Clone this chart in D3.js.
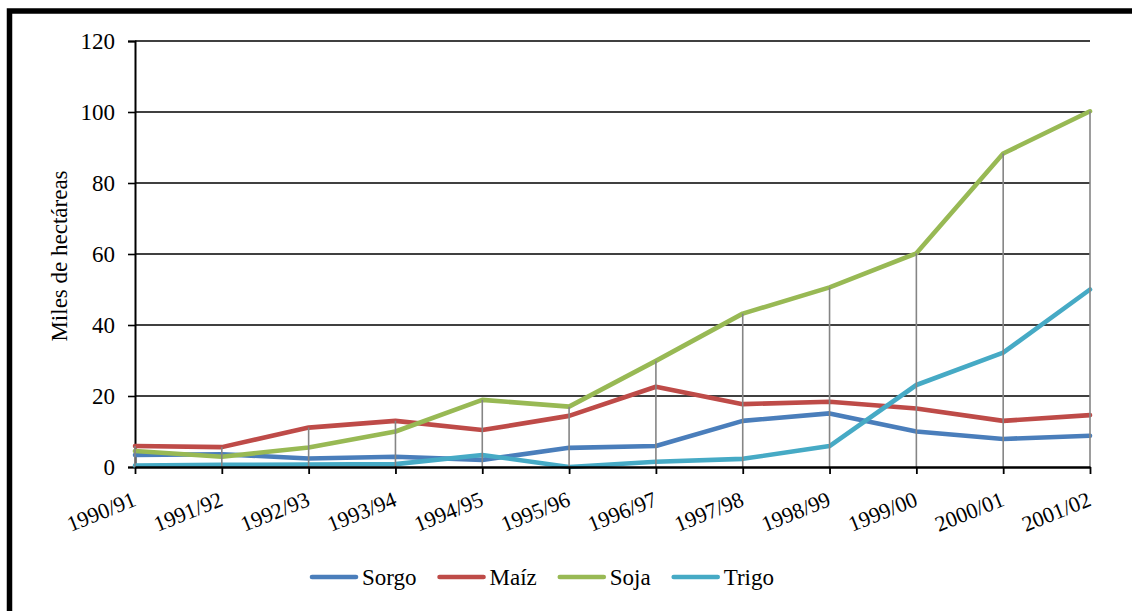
<!DOCTYPE html>
<html>
<head>
<meta charset="utf-8">
<script src="https://cdn.jsdelivr.net/npm/d3@7"></script>
<style>
  body { margin: 0; background: #fff; }
</style>
</head>
<body>
<svg id="chart" width="1132" height="611"></svg>
<script>
// Campañas agrícolas (eje X)
const campaigns = ["1990/91", "1991/92", "1992/93", "1993/94", "1994/95", "1995/96",
                   "1996/97", "1997/98", "1998/99", "1999/00", "2000/01", "2001/02"];

// Superficie por cultivo, miles de hectáreas
const sorgo = [3.4, 3.6, 2.4, 2.9, 2.0, 5.4, 5.9, 13.0, 15.1, 10.0, 7.9, 8.8];
const maiz  = [5.9, 5.6, 11.1, 13.0, 10.4, 14.4, 22.6, 17.7, 18.4, 16.5, 13.0, 14.6];
const soja  = [4.5, 2.9, 5.5, 10.0, 18.9, 17.0, 29.9, 43.2, 50.6, 60.2, 88.3, 100.2];
const trigo = [0.4, 0.6, 0.7, 0.8, 3.4, 0.0, 1.5, 2.3, 5.9, 23.1, 32.2, 50.0];

const seriesNames  = ["Sorgo", "Maíz", "Soja", "Trigo"];
const seriesValues = [sorgo, maiz, soja, trigo];
const seriesColors = ["#4A7EBB", "#BE4B48", "#98B954", "#46AAC5"];

const yTicks = [0, 20, 40, 60, 80, 100, 120];
const yLabel = "Miles de hectáreas";

const FONT = "Liberation Serif";

const svg = d3.select("#chart");
const W = 1132, H = 611;
const plot = { left: 135, right: 1090, top: 41, bottom: 467 };

// Marco exterior
svg.append("rect")
  .attr("x", 9.5).attr("y", 11)
  .attr("width", W + 20).attr("height", H + 20)
  .attr("fill", "#fff").attr("stroke", "#000").attr("stroke-width", 5.5);

const x = d3.scalePoint().domain(campaigns).range([plot.left, plot.right]);
const y = d3.scaleLinear().domain([0, 120]).range([plot.bottom, plot.top]);

// Líneas de cuadrícula horizontales
svg.append("g")
  .selectAll("line")
  .data(yTicks.filter(t => t > 0))
  .join("line")
  .attr("x1", plot.left).attr("x2", plot.right)
  .attr("y1", d => y(d)).attr("y2", d => y(d))
  .attr("stroke", "#000").attr("stroke-width", 1.6);

// Eje Y
const yAxis = svg.append("g")
  .attr("transform", `translate(${plot.left},0)`)
  .call(d3.axisLeft(y).tickValues(yTicks).tickSize(7).tickPadding(13).tickFormat(d3.format("d")))
  .attr("font-family", FONT).attr("font-size", 23);
yAxis.select(".domain").attr("stroke", "#000").attr("stroke-width", 2);
yAxis.selectAll(".tick line").attr("stroke", "#000").attr("stroke-width", 1.6);
yAxis.selectAll(".tick text").attr("fill", "#000").attr("dy", "0.34em");

// Título del eje Y
svg.append("text")
  .attr("transform", `translate(67,256) rotate(-90)`)
  .attr("text-anchor", "middle")
  .attr("font-family", FONT).attr("font-size", 23).attr("fill", "#000")
  .text(yLabel);

// Series
const line = d3.line()
  .x((d, i) => x(campaigns[i]))
  .y(d => y(d));

svg.append("g")
  .selectAll("path")
  .data(seriesValues)
  .join("path")
  .attr("d", d => line(d))
  .attr("fill", "none")
  .attr("stroke", (d, i) => seriesColors[i])
  .attr("stroke-width", 4.6)
  .attr("stroke-linejoin", "round")
  .attr("stroke-linecap", "round");

// Líneas de proyección (del valor máximo al eje)
svg.append("g")
  .selectAll("line")
  .data(campaigns)
  .join("line")
  .attr("x1", d => x(d)).attr("x2", d => x(d))
  .attr("y1", (d, i) => y(d3.max(seriesValues, s => s[i])))
  .attr("y2", plot.bottom)
  .attr("stroke", "#858585").attr("stroke-width", 1.6);

// Eje X
const xAxis = svg.append("g")
  .attr("transform", `translate(0,${plot.bottom})`)
  .call(d3.axisBottom(x).tickSize(7).tickSizeOuter(0))
  .attr("font-family", FONT).attr("font-size", 22);
xAxis.select(".domain").attr("stroke", "#000").attr("stroke-width", 2.4);
xAxis.selectAll(".tick line").attr("stroke", "#000").attr("stroke-width", 1.8);
xAxis.selectAll(".tick text")
  .attr("fill", "#000")
  .attr("text-anchor", "end")
  .attr("dy", null)
  .attr("y", 0)
  .attr("transform", "translate(2,38) rotate(-22)");

// Leyenda
const legend = svg.append("g");
let cursor = 0;
seriesNames.forEach((name, i) => {
  const item = legend.append("g").attr("transform", `translate(${cursor},0)`);
  item.append("line")
    .attr("x1", 2).attr("x2", 46).attr("y1", 0).attr("y2", 0)
    .attr("stroke", seriesColors[i]).attr("stroke-width", 4.6)
    .attr("stroke-linecap", "round");
  const t = item.append("text")
    .attr("x", 52).attr("y", 8)
    .attr("font-family", FONT).attr("font-size", 23).attr("fill", "#000")
    .text(name);
  cursor += 52 + t.node().getComputedTextLength() + 21;
});
const legendWidth = cursor - 21;
legend.attr("transform", `translate(${542 - legendWidth / 2},577)`);
</script>
</body>
</html>
